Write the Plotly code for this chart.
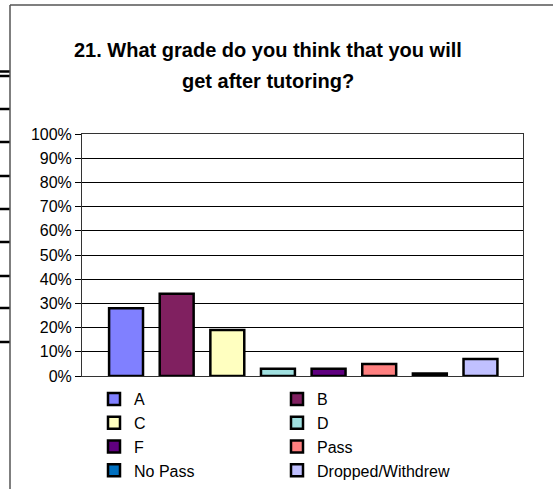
import plotly.graph_objects as go

categories = ["A", "B", "C", "D", "F", "Pass", "No Pass", "Dropped/Withdrew"]
values = [0.28, 0.34, 0.19, 0.03, 0.03, 0.05, 0.01, 0.07]
colors = ["#8080FF", "#802060", "#FFFFC0", "#A0E0E0", "#600080", "#FF8080", "#0070C0", "#C0C0FF"]
y_ticks = [0, 0.1, 0.2, 0.3, 0.4, 0.5, 0.6, 0.7, 0.8, 0.9, 1.0]
y_tick_labels = ["0%", "10%", "20%", "30%", "40%", "50%", "60%", "70%", "80%", "90%", "100%"]
title_lines = ["21. What grade do you think that you will", "get after tutoring?"]

FONT = "Liberation Sans, Arial, sans-serif"

fig = go.Figure()
for i, (cat, val, col) in enumerate(zip(categories, values, colors)):
    fig.add_trace(go.Bar(
        x=[i], y=[val], name=cat, width=0.67,
        marker=dict(color=col, line=dict(color="black", width=2.5)),
    ))

W, H = 553, 489
L, R, T, B = 82, 30, 134, 113
pw, ph = W - L - R, H - T - B

def px_x(p):
    return (p - L) / pw

def px_y(p):
    return (H - B - p) / ph

shapes = []
# outer chart frame (left and top)
shapes.append(dict(type="line", xref="paper", yref="paper", x0=px_x(10), x1=px_x(10),
                   y0=px_y(5), y1=px_y(489), line=dict(color="#555555", width=1.5)))
shapes.append(dict(type="line", xref="paper", yref="paper", x0=px_x(10), x1=px_x(553),
                   y0=px_y(5), y1=px_y(5), line=dict(color="#555555", width=1.5)))
# spreadsheet stubs at the left edge
for yy in [71.5, 76, 109, 142, 176, 209, 242, 276, 308, 342]:
    shapes.append(dict(type="line", xref="paper", yref="paper", x0=px_x(0), x1=px_x(9.5),
                       y0=px_y(yy), y1=px_y(yy), line=dict(color="black", width=2.5)))

annotations = [
    dict(text="<b>%s</b>" % title_lines[0], xref="paper", yref="paper", x=px_x(268), y=px_y(50),
         xanchor="center", yanchor="middle", showarrow=False, font=dict(size=20, color="black", family=FONT)),
    dict(text="<b>%s</b>" % title_lines[1], xref="paper", yref="paper", x=px_x(268), y=px_y(81),
         xanchor="center", yanchor="middle", showarrow=False, font=dict(size=20, color="black", family=FONT)),
]

fig.update_layout(
    width=W, height=H,
    margin=dict(l=L, r=R, t=T, b=B, pad=0, autoexpand=False),
    paper_bgcolor="white", plot_bgcolor="white",
    barmode="overlay",
    font=dict(family=FONT, size=16, color="black"),
    showlegend=True,
    legend=dict(orientation="h", x=px_x(94), xanchor="left", y=px_y(382), yanchor="top",
                entrywidth=138, entrywidthmode="pixels", itemwidth=30,
                font=dict(size=16, family=FONT, color="black"), traceorder="normal",
                bgcolor="rgba(0,0,0,0)"),
    xaxis=dict(range=[-0.87, 7.84], showticklabels=False, ticks="", showgrid=False,
               zeroline=False, showline=True, linecolor="#333333", linewidth=1, mirror=True),
    yaxis=dict(range=[0, 1], tickvals=y_ticks, ticktext=y_tick_labels, ticks="outside",
               ticklen=6, tickcolor="black", showgrid=True, gridcolor="black", gridwidth=1,
               zeroline=False, showline=True, linecolor="#333333", linewidth=1, mirror=True,
               tickfont=dict(size=16, family=FONT, color="black")),
    shapes=shapes,
    annotations=annotations,
)

fig.write_html("out.html", config={"displayModeBar": False},
               post_script="document.body.style.margin='0px';")
